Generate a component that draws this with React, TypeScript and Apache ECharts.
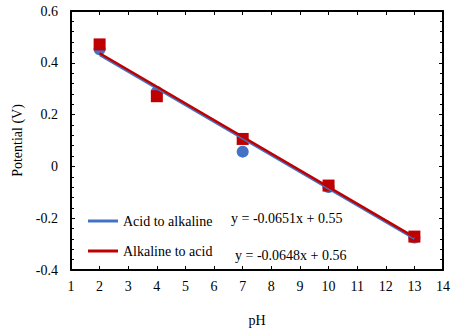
import React, { useEffect, useRef } from "react";
import * as echarts from "echarts";

const phValues = [2, 4, 7, 10, 13];
const acidToAlkaline = [0.452, 0.287, 0.057, -0.08, -0.275];
const alkalineToAcid = [0.471, 0.271, 0.106, -0.074, -0.271];
const trendAcidToAlkaline = [[2, 0.43], [13, -0.279]];
const trendAlkalineToAcid = [[2, 0.437], [13, -0.273]];
const equations = ["y = -0.0651x + 0.55", "y = -0.0648x + 0.56"];
const seriesNames = ["Acid to alkaline", "Alkaline to acid"];

const FONT = "'Liberation Serif', 'Times New Roman', serif";
const BLUE = "#4472C4";
const RED = "#C00000";

export default function App() {
  const ref = useRef<HTMLDivElement>(null);
  useEffect(() => {
    if (!ref.current) return;
    const chart = echarts.init(ref.current, undefined, { renderer: "svg" });
    const axisLine = { show: true, onZero: false, lineStyle: { color: "#000", width: 2 } };
    const labelStyle = { color: "#000", fontFamily: FONT, fontSize: 14 };
    chart.setOption({
      animation: false,
      backgroundColor: "#fff",
      textStyle: { fontFamily: FONT },
      grid: { left: 71, right: 12, top: 11, bottom: 63, containLabel: false },
      xAxis: [
        {
          type: "value",
          min: 1,
          max: 14,
          interval: 1,
          name: "pH",
          nameLocation: "middle",
          nameGap: 43,
          nameTextStyle: labelStyle,
          axisLine,
          axisTick: { show: true, inside: true, length: 4, lineStyle: { color: "#000", width: 1 } },
          axisLabel: { ...labelStyle, margin: 9 },
          splitLine: { show: false },
        },
        {
          type: "value",
          position: "top",
          min: 1,
          max: 14,
          interval: 1,
          axisLine,
          axisTick: { show: true, inside: true, length: 4, lineStyle: { color: "#000", width: 1 } },
          axisLabel: { show: false },
          splitLine: { show: false },
        },
      ],
      yAxis: [
        {
          type: "value",
          min: -0.4,
          max: 0.6,
          interval: 0.2,
          name: "Potential (V)",
          nameLocation: "middle",
          nameGap: 43,
          nameRotate: 90,
          nameTextStyle: labelStyle,
          axisLine,
          axisTick: { show: true, inside: true, length: 4, lineStyle: { color: "#000", width: 1 } },
          minorTick: { show: true, splitNumber: 5, length: 3, lineStyle: { color: "#000", width: 1 } },
          axisLabel: { ...labelStyle, margin: 13, formatter: (v: number) => String(Math.round(v * 10) / 10) },
          splitLine: { show: false },
        },
        {
          type: "value",
          position: "right",
          min: -0.4,
          max: 0.6,
          interval: 0.2,
          axisLine,
          axisTick: { show: true, inside: true, length: 4, lineStyle: { color: "#000", width: 1 } },
          minorTick: { show: true, splitNumber: 5, length: 3, lineStyle: { color: "#000", width: 1 } },
          axisLabel: { show: false },
          splitLine: { show: false },
        },
      ],
      legend: {
        orient: "vertical",
        left: 83,
        top: 209,
        itemGap: 16,
        itemWidth: 30,
        itemHeight: 3,
        textStyle: { color: "#000", fontFamily: FONT, fontSize: 14 },
        data: [
          { name: seriesNames[0], icon: "rect", itemStyle: { color: BLUE } },
          { name: seriesNames[1], icon: "rect", itemStyle: { color: RED } },
        ],
      },
      graphic: [
        {
          type: "text",
          left: 231,
          top: 211,
          style: { text: equations[0], fill: "#000", fontFamily: FONT, fontSize: 14 },
        },
        {
          type: "text",
          left: 235,
          top: 248,
          style: { text: equations[1], fill: "#000", fontFamily: FONT, fontSize: 14 },
        },
      ],
      series: [
        {
          name: "acid-points",
          type: "scatter",
          symbol: "circle",
          symbolSize: 12,
          itemStyle: { color: BLUE, opacity: 1 },
          data: phValues.map((x, i) => [x, acidToAlkaline[i]]),
          z: 2,
        },
        {
          name: "alkaline-points",
          type: "scatter",
          symbol: "rect",
          symbolSize: 12,
          itemStyle: { color: RED, opacity: 1 },
          data: phValues.map((x, i) => [x, alkalineToAcid[i]]),
          z: 3,
        },
        {
          name: seriesNames[0],
          type: "line",
          showSymbol: false,
          symbol: "none",
          lineStyle: { color: BLUE, width: 2.5 },
          itemStyle: { color: BLUE },
          data: trendAcidToAlkaline,
          z: 4,
        },
        {
          name: seriesNames[1],
          type: "line",
          showSymbol: false,
          symbol: "none",
          lineStyle: { color: RED, width: 2.5 },
          itemStyle: { color: RED },
          data: trendAlkalineToAcid,
          z: 5,
        },
      ],
    });
    return () => chart.dispose();
  }, []);
  return <div ref={ref} style={{ width: 455, height: 333, position: "absolute", left: 0, top: 0 }} />;
}
